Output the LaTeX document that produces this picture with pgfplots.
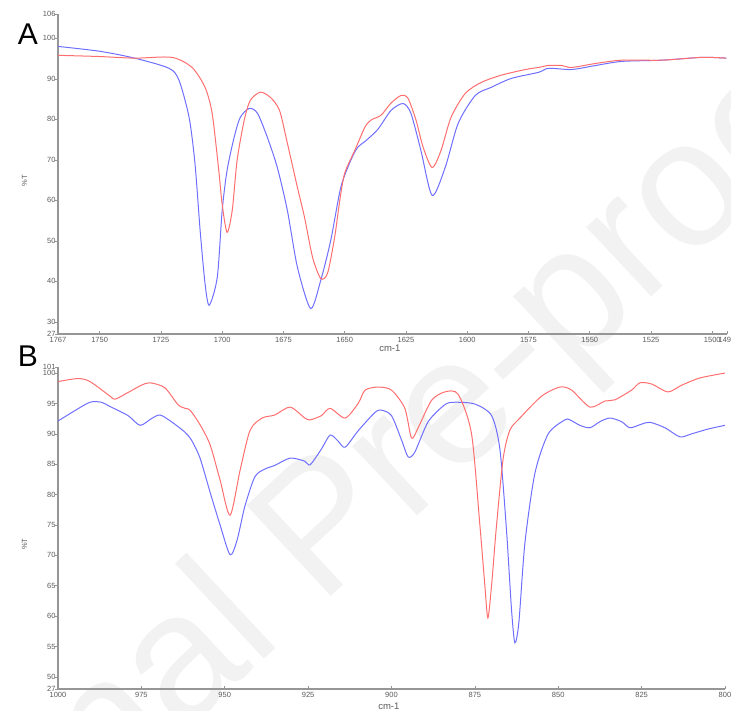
\documentclass[border=0pt]{standalone}
\usepackage{fontspec}
\setmainfont{Liberation Sans}
\usepackage{pgfplots}
\pgfplotsset{compat=1.18}
\definecolor{irred}{RGB}{255,110,110}
\definecolor{irblue}{RGB}{110,110,255}
\definecolor{axgray}{RGB}{150,150,150}
\definecolor{txtgray}{RGB}{90,90,90}
\definecolor{wmark}{RGB}{242,242,242}

\pgfplotsset{
  irpanel/.style={
    scale only axis,
    x dir=reverse,
    axis x line*=bottom,
    axis y line*=left,
    axis line style={axgray, line width=1.4pt, -},
    tick style={axgray, line width=0.6pt},
    major tick length=3pt,
    y tick style={/pgfplots/tick align=outside},
    tick label style={font=\fontsize{7.5}{8}\selectfont, text=txtgray},
    /pgf/number format/assume math mode=true,
    /pgf/number format/1000 sep={},
    xticklabel style={yshift=0pt},
    yticklabel style={xshift=1pt},
    xlabel={cm-1},
    ylabel={\%T},
    xlabel style={font=\fontsize{9.5}{10}\selectfont, text=txtgray},
    ylabel style={font=\fontsize{7.5}{8}\selectfont, text=txtgray},
    clip=true,
  },
  ired/.style={irred, line width=1pt, smooth, tension=0.45},
  iblue/.style={irblue, line width=1pt, smooth, tension=0.45},
}

\begin{document}
\begin{tikzpicture}
\useasboundingbox (0pt,0pt) rectangle (731pt,710pt);
% watermark
\node[anchor=base west, rotate=43, text=wmark, font=\fontsize{180}{180}\selectfont] at (-150pt,-335pt) {Journal Pre-proof};

% ---------------- panel A ----------------
\begin{axis}[irpanel,
  at={(58pt,376pt)}, anchor=south west,
  width=669pt, height=320pt,
  xmin=1494, xmax=1767, ymin=27, ymax=106,
  xtick={1767,1750,1725,1700,1675,1650,1625,1600,1575,1550,1525,1500,1494},
  ytick={27,30,40,50,60,70,80,90,100,106},
  xlabel style={at={(axis description cs:0.496,-0.044)}, anchor=center},
  ylabel style={at={(axis description cs:-0.05,0.48)}, anchor=center},
]
\addplot[iblue] coordinates {
(1767,98.0) (1750,96.8) (1735.7,95.1) (1721.7,92.6) (1717.6,89.6) (1713.5,80.5)
(1711.1,69.1) (1709,52.6) (1707,39.5) (1705.3,34.1) (1702,41) (1700,57.5)
(1698,67.4) (1695.1,75.6) (1692.6,80.5) (1688.9,82.7) (1685.6,81.5) (1681.6,75.6)
(1677.5,68.1) (1673.4,57.5) (1669.3,43.5) (1663.9,33.3) (1659.8,40.2) (1655.7,50.1)
(1651.6,63.2) (1647.5,69.9) (1644.7,73.1) (1641.8,74.5) (1636.5,77.5) (1631.1,82.2)
(1626.2,83.9) (1623,81.5) (1618.9,72.3) (1614.3,61.2) (1609,68.1) (1603.7,79)
(1596.7,85.9) (1590.2,87.9) (1582,90.1) (1570.9,91.6) (1566.8,92.6) (1557.4,92.3)
(1547.5,93.3) (1536.9,94.3) (1520.5,94.6) (1504.1,95.3) (1494.3,95.1)
};
\addplot[ired] coordinates {
(1767,95.8) (1750,95.5) (1735.7,95.1) (1720.5,95.3) (1712.3,92.8) (1707,87.9)
(1704.1,81.5) (1701.5,68) (1700,59) (1698,52.1) (1695.9,57.5) (1693.9,69.9)
(1691,79.8) (1688.5,84.7) (1684.4,86.7) (1680.3,85.4) (1676.6,82.2) (1673.4,74.1)
(1669.3,63.2) (1666.4,55.8) (1663.1,45.9) (1659.8,40.7) (1657,42) (1654.1,50.9)
(1652,60) (1650,66.7) (1645.9,72.3) (1641.8,78) (1639.3,79.8) (1635.2,81)
(1631.1,84) (1627,85.9) (1624.2,85.2) (1620.9,79.8) (1618,73.1) (1614.3,68.1)
(1610.7,72.3) (1606.6,80.5) (1600.8,86.4) (1594.3,89.1) (1586.1,90.9) (1576.2,92.3)
(1570.9,92.8) (1566.8,93.3) (1561.5,93.3) (1557.4,92.8) (1547.5,93.8) (1536.9,94.6)
(1520.5,94.6) (1504.1,95.3) (1494.3,95.1)
};
\end{axis}

% ---------------- panel B ----------------
\begin{axis}[irpanel,
  at={(58pt,21pt)}, anchor=south west,
  width=667pt, height=322pt,
  xmin=800, xmax=1000, ymin=48, ymax=101,
  xtick={1000,975,950,925,900,875,850,825,800},
  ytick={48,50,55,60,65,70,75,80,85,90,95,100,101},
  yticklabels={27,50,55,60,65,70,75,80,85,90,95,100,101},
  xlabel style={at={(axis description cs:0.496,-0.053)}, anchor=center},
  ylabel style={at={(axis description cs:-0.05,0.45)}, anchor=center},
]
\addplot[iblue] coordinates {
(1000,92.1) (995,93.8) (990.4,95.2) (987,95.2) (984.4,94.5) (979,93) (975.4,91.4)
(972,92.5) (969.4,93.1) (966,92) (962,90.3) (960,89) (957.4,86) (954.4,80.4)
(951.4,75) (948.4,70.1) (946.3,72.5) (944,78) (941,82.9) (938,84.2) (935,84.8)
(930.4,86) (926,85.5) (924.4,84.9) (921,87.5) (918.4,89.8) (916,88.8) (913.9,87.8)
(910,90.5) (905,93.5) (903,93.9) (900,93) (897,89) (895,86.2) (893,87) (889,92)
(884,94.8) (881,95.2) (875,94.9) (870,93) (867.5,87.5) (865.5,74) (864,61)
(863,55.6) (861.8,59) (860,72) (857,83.5) (853,90) (848,92.3) (846.5,92.3)
(843.5,91.4) (840.5,91) (837.5,92) (834.5,92.6) (831,92) (828.5,91) (825,91.6)
(822.5,91.9) (818,91) (813.5,89.5) (810,90) (805,90.8) (800,91.4)
};
\addplot[ired] coordinates {
(1000,98.6) (994,99.1) (990.4,98.6) (984.4,96.2) (982.9,95.7) (979,96.8) (975,98)
(972.4,98.4) (968,97.6) (964,94.8) (961.9,94.2) (960.4,93.9) (957.4,91.5)
(954.4,88.2) (951.4,82.4) (948.4,76.6) (945.4,84) (942.4,90.6) (938.8,92.6)
(935,93.1) (930.4,94.4) (926,92.6) (924.4,92.3) (921,93) (918.4,94.2) (913.9,92.6)
(910,95) (907.9,97.2) (904,97.7) (900,97.2) (896,94.2) (894,89.3) (892,91)
(888,95.5) (884,96.9) (880,96.5) (876,90) (873.5,75) (872,65) (871.1,59.7)
(870,65) (868.5,75) (866.5,86) (864.5,90.6) (861.5,92.6) (855,96.2) (849.5,97.7)
(846,97.2) (840.5,94.4) (836,95.4) (833,95.6) (828,97.2) (825.5,98.4) (822,98.2)
(817.1,96.9) (813,98) (807.5,99.2) (800,100)
};
\end{axis}

\node[font=\fontsize{30}{30}\selectfont] at (28pt,676pt) {A};
\node[font=\fontsize{30}{30}\selectfont] at (28pt,354pt) {B};
\end{tikzpicture}
\end{document}
